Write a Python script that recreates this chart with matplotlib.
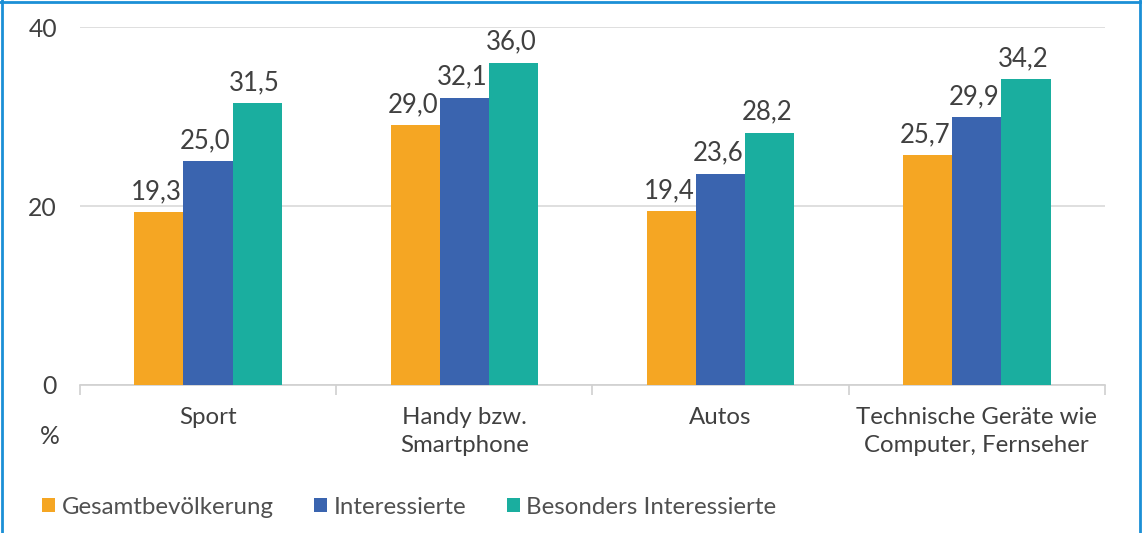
import numpy as np
import matplotlib
matplotlib.use('Agg')
import matplotlib.pyplot as plt
from matplotlib.lines import Line2D
from matplotlib.patches import Patch

plt.rcParams['font.family'] = ['Lato', 'DejaVu Sans']

categories = ['Sport', 'Handy bzw.\nSmartphone', 'Autos', 'Technische Geräte wie\nComputer, Fernseher']
series_names = ['Gesamtbevölkerung', 'Interessierte', 'Besonders Interessierte']
gesamt = [19.3, 29.0, 19.4, 25.7]
interessierte = [25.0, 32.1, 23.6, 29.9]
besonders = [31.5, 36.0, 28.2, 34.2]
colors = ['#F5A623', '#3A64AF', '#1AAE9F']
text_col = '#404040'

fig = plt.figure(figsize=(11.42, 5.33), dpi=100)
ax = fig.add_axes([0.070, 0.2777, 0.8976, 0.6716])

x = np.arange(len(categories))
w = 0.192
for i, vals in enumerate([gesamt, interessierte, besonders]):
    pos = x + (i - 1) * w
    ax.bar(pos, vals, width=w, color=colors[i], zorder=3)
    for p, v in zip(pos, vals):
        ax.text(p - 0.01, v + 0.9, f'{v:.1f}'.replace('.', ','), ha='center', va='bottom',
                fontsize=18.5, color=text_col)

ax.set_xlim(-0.5, len(categories) - 0.5)
ax.set_ylim(0, 40)
ax.set_yticks([0, 20, 40])
ax.tick_params(axis='y', length=0, pad=16.5, labelsize=17.8, labelcolor=text_col)
ax.grid(axis='y', color='#D9D9D9', linewidth=1.2, zorder=0)
for s in ['top', 'right', 'left']:
    ax.spines[s].set_visible(False)
ax.spines['bottom'].set_color('#D0D0D0')
ax.spines['bottom'].set_linewidth(1.2)

# category labels and boundary ticks
ax.set_xticks(np.arange(-0.5, len(categories)), minor=False)
ax.set_xticklabels([])
ax.tick_params(axis='x', length=7, color='#D0D0D0', width=1.2)
for xi, lab in zip(x, categories):
    ax.text(xi, -2.45, lab, ha='center', va='top', fontsize=17.3, color=text_col,
            linespacing=1.4)

fig.text(50 / 1142, 1 - 437 / 533, '%', ha='center', va='center', fontsize=17.8, color=text_col)

handles = [Patch(facecolor=c, edgecolor='none') for c in colors]
fig.legend(handles, series_names, loc='center left', bbox_to_anchor=(0.018, 1 - 507 / 533),
           ncol=3, frameon=False, fontsize=17.3, handlelength=0.55, handleheight=0.55,
           handletextpad=0.25, columnspacing=1.7, labelcolor='#505050')

# blue frame
fc = '#1B8FD6'
fig.add_artist(Line2D([0.0015, 0.0015], [0, 1], transform=fig.transFigure, color=fc, lw=2))
fig.add_artist(Line2D([0, 1], [0.997, 0.997], transform=fig.transFigure, color=fc, lw=2))
fig.add_artist(Line2D([0.9985, 0.9985], [0, 1], transform=fig.transFigure, color=fc, lw=2))

fig.savefig('out.png', dpi=100)
